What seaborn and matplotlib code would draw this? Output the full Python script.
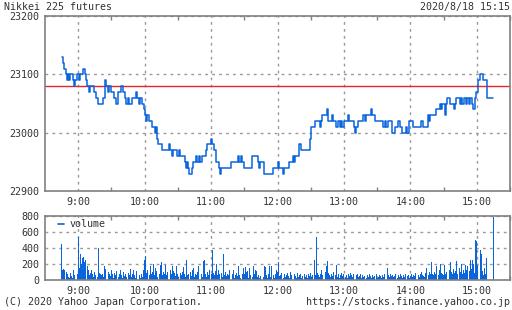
import matplotlib
matplotlib.use("Agg")
import matplotlib.pyplot as plt
import seaborn as sns
import pandas as pd
import numpy as np
from matplotlib.lines import Line2D

# ---------------- data (minutes after 8:45) ----------------
step_min = [0, 1, 2, 4, 5, 6, 7, 8, 10, 11, 12, 14, 16, 17, 19, 21, 22, 23, 25, 26,
            29, 31, 33, 37, 39, 40, 42, 43, 45, 47, 49, 51, 54, 55, 57, 58, 60, 61, 64, 67,
            68, 70, 71, 73, 74, 75, 76, 77, 79, 82, 84, 85, 86, 87, 91, 97, 98, 100, 101, 104,
            106, 107, 111, 112, 113, 114, 115, 118, 119, 121, 122, 124, 125, 127, 130, 131, 135, 136, 138, 139,
            142, 143, 144, 153, 159, 160, 162, 163, 165, 172, 177, 178, 179, 183, 191, 195, 196, 200, 201, 205,
            209, 210, 211, 214, 216, 224, 225, 229, 233, 234, 235, 240, 241, 244, 245, 248, 250, 251, 252, 253,
            255, 259, 260, 264, 265, 266, 268, 272, 274, 275, 279, 280, 283, 290, 292, 293, 295, 298, 301, 304,
            306, 307, 311, 312, 314, 317, 325, 326, 331, 332, 333, 338, 342, 343, 344, 346, 347, 348, 351, 354,
            355, 356, 360, 361, 362, 363, 365, 366, 368, 369, 371, 372, 373, 374, 376, 378, 381, 384, 390]
step_price = [23130, 23120, 23110, 23100, 23090, 23100, 23090, 23100, 23090, 23080, 23090, 23100, 23090, 23100, 23110, 23100, 23090, 23080, 23070, 23080,
              23070, 23060, 23050, 23060, 23090, 23080, 23070, 23080, 23070, 23060, 23050, 23070, 23080, 23070, 23060, 23050, 23060, 23050, 23060, 23070,
              23060, 23050, 23060, 23050, 23040, 23030, 23020, 23030, 23020, 23010, 23000, 23010, 22990, 22980, 22970, 22980, 22970, 22960, 22970, 22960,
              22970, 22960, 22950, 22940, 22950, 22940, 22930, 22940, 22950, 22960, 22950, 22960, 22950, 22960, 22970, 22980, 22990, 22980, 22970, 22950,
              22940, 22930, 22940, 22950, 22960, 22950, 22960, 22950, 22940, 22960, 22950, 22940, 22950, 22930, 22940, 22950, 22940, 22930, 22940, 22950,
              22960, 22950, 22960, 22980, 22970, 22990, 23010, 23020, 23010, 23020, 23030, 23040, 23020, 23030, 23020, 23010, 23020, 23010, 23020, 23010,
              23020, 23030, 23020, 23010, 23000, 23010, 23020, 23030, 23020, 23030, 23040, 23030, 23020, 23010, 23020, 23010, 23020, 23000, 23010, 23020,
              23010, 23000, 23010, 23000, 23020, 23010, 23020, 23010, 23030, 23020, 23030, 23040, 23050, 23040, 23050, 23030, 23050, 23060, 23050, 23040,
              23050, 23060, 23050, 23060, 23050, 23060, 23050, 23060, 23050, 23060, 23050, 23040, 23060, 23070, 23090, 23100, 23090, 23060, 23060]
prev_close = 23080

volume = [450, 120, 140, 130, 100, 70, 40, 30, 90, 50,
          30, 120, 60, 40, 70, 540, 150, 330, 200, 270,
          290, 230, 250, 180, 130, 60, 90, 120, 80, 40,
          100, 60, 40, 400, 90, 70, 60, 80, 40, 170,
          140, 60, 100, 80, 50, 120, 70, 30, 90, 60,
          110, 40, 80, 130, 60, 30, 100, 50, 70, 40,
          90, 60, 140, 40, 80, 120, 60, 30, 110, 50,
          60, 30, 80, 40, 130, 250, 300, 90, 120, 60,
          180, 70, 100, 200, 60, 150, 110, 40, 80, 190,
          220, 60, 100, 70, 190, 60, 100, 40, 130, 80,
          175, 110, 90, 50, 170, 70, 40, 90, 60, 100,
          165, 70, 40, 250, 60, 80, 100, 50, 130, 145,
          40, 80, 60, 100, 170, 130, 70, 40, 240, 250,
          70, 40, 100, 60, 130, 80, 375, 90, 60, 110,
          200, 60, 120, 70, 90, 40, 325, 60, 100, 50,
          80, 60, 130, 40, 70, 130, 30, 60, 90, 50,
          170, 60, 20, 80, 150, 70, 160, 100, 110, 30,
          150, 60, 40, 175, 70, 125, 110, 40, 60, 30,
          50, 90, 40, 170, 165, 60, 30, 80, 180, 40,
          175, 60, 30, 80, 120, 100, 220, 50, 60, 90,
          30, 70, 40, 60, 90, 50, 30, 100, 60, 40,
          70, 50, 30, 90, 40, 60, 80, 30, 50, 70,
          40, 60, 30, 80, 50, 90, 40, 60, 250, 60,
          540, 90, 60, 40, 80, 120, 60, 50, 100, 170,
          240, 90, 60, 40, 80, 50, 100, 60, 190, 40,
          70, 30, 60, 90, 50, 80, 40, 60, 30, 70,
          50, 90, 60, 40, 70, 30, 60, 80, 40, 50,
          70, 30, 60, 40, 50, 30, 60, 40, 70, 50,
          30, 60, 40, 50, 70, 30, 40, 60, 50, 30,
          60, 40, 70, 30, 155, 60, 40, 80, 50, 60,
          40, 50, 70, 30, 60, 40, 80, 50, 30, 60,
          40, 70, 50, 60, 30, 50, 80, 40, 60, 50,
          90, 140, 60, 40, 80, 100, 60, 50, 40, 90,
          150, 60, 100, 80, 220, 70, 60, 100, 80, 180,
          60, 120, 200, 90, 70, 60, 190, 80, 100, 280,
          120, 230, 100, 70, 140, 90, 110, 240, 80, 150,
          100, 200, 70, 130, 90, 190, 120, 180, 110, 250,
          140, 250, 200, 90, 500, 490, 190, 170, 380, 330,
          110, 60, 150, 80, 270, 0, 0, 0, 0, 0,
          790]

hour_labels = ["9:00", "10:00", "11:00", "12:00", "13:00", "14:00", "15:00"]
price_ticks = [22900, 23000, 23100, 23200]
vol_ticks = [0, 200, 400, 600, 800]

title_left = "Nikkei 225 futures"
title_right = "2020/8/18 15:15"
foot_left = "(C) 2020 Yahoo Japan Corporation."
foot_right = "https://stocks.finance.yahoo.co.jp"

# ---------------- style ----------------
sns.set_theme(style="white")
plt.rcParams['font.family'] = ['DejaVu Sans Mono']
FS = 7.2
TXT = "#333333"
BLUE = "#0a64dc"
SPINE = "#808080"
GRID = "#999999"

fig = plt.figure(figsize=(5.12, 3.10), dpi=100)
fig.patch.set_facecolor("white")
W, H = 512.0, 310.0
ax = fig.add_axes([45 / W, 1 - 191 / H, 465 / W, 175 / H])
axv = fig.add_axes([45 / W, 1 - 280 / H, 465 / W, 64 / H])

price_df = pd.DataFrame({"t": step_min, "price": step_price})
sns.lineplot(data=price_df, x="t", y="price", ax=ax, drawstyle="steps-post",
             color=BLUE, linewidth=1.1, estimator=None, sort=True)
ax.axhline(prev_close, color="#e8262a", linewidth=1.0, zorder=1)

vol_df = pd.DataFrame({"t": np.arange(len(volume)), "vol": volume})
sns.histplot(data=vol_df, x="t", weights="vol", discrete=True, ax=axv,
             color=BLUE, alpha=1.0, linewidth=0, shrink=0.9)

hour_pos = [15 + 60 * i for i in range(len(hour_labels))]
half_pos = [45 + 60 * i for i in range(len(hour_labels))]
for a in (ax, axv):
    a.set_xlim(-15, 403.5)
    a.set_xticks(hour_pos)
    a.set_xticklabels(hour_labels)
    a.set_xticks(half_pos, minor=True)
    a.set_xlabel("")
    a.set_ylabel("")
    for s in a.spines.values():
        s.set_color(SPINE)
        s.set_linewidth(1.2)
    a.tick_params(axis="both", which="major", length=0, labelsize=FS, labelcolor=TXT, pad=4)
    a.tick_params(axis="x", which="minor", length=3, direction="in", top=True, bottom=True,
                  color=SPINE, width=1)
    a.grid(True, which="major", color=GRID, linestyle=(0, (2, 3)), linewidth=1.0)
    a.set_axisbelow(True)

ax.set_ylim(22900, 23200)
ax.set_yticks(price_ticks)
axv.set_ylim(0, 800)
axv.set_yticks(vol_ticks)

axv.legend(handles=[Line2D([0], [0], color=BLUE, lw=1.2)], labels=["volume"],
           loc="upper left", frameon=False, fontsize=FS, handlelength=0.6,
           handletextpad=0.6, borderaxespad=0.2, bbox_to_anchor=(0.015, 1.04),
           labelcolor=TXT)

fig.text(4 / W, 1 - 7 / H, title_left, ha="left", va="center", fontsize=FS, color=TXT)
fig.text(510 / W, 1 - 7 / H, title_right, ha="right", va="center", fontsize=FS, color=TXT)
fig.text(4 / W, 1 - 302 / H, foot_left, ha="left", va="center", fontsize=FS, color=TXT)
fig.text(510 / W, 1 - 302 / H, foot_right, ha="right", va="center", fontsize=FS, color=TXT)

fig.savefig("out.png", dpi=100, facecolor="white")
